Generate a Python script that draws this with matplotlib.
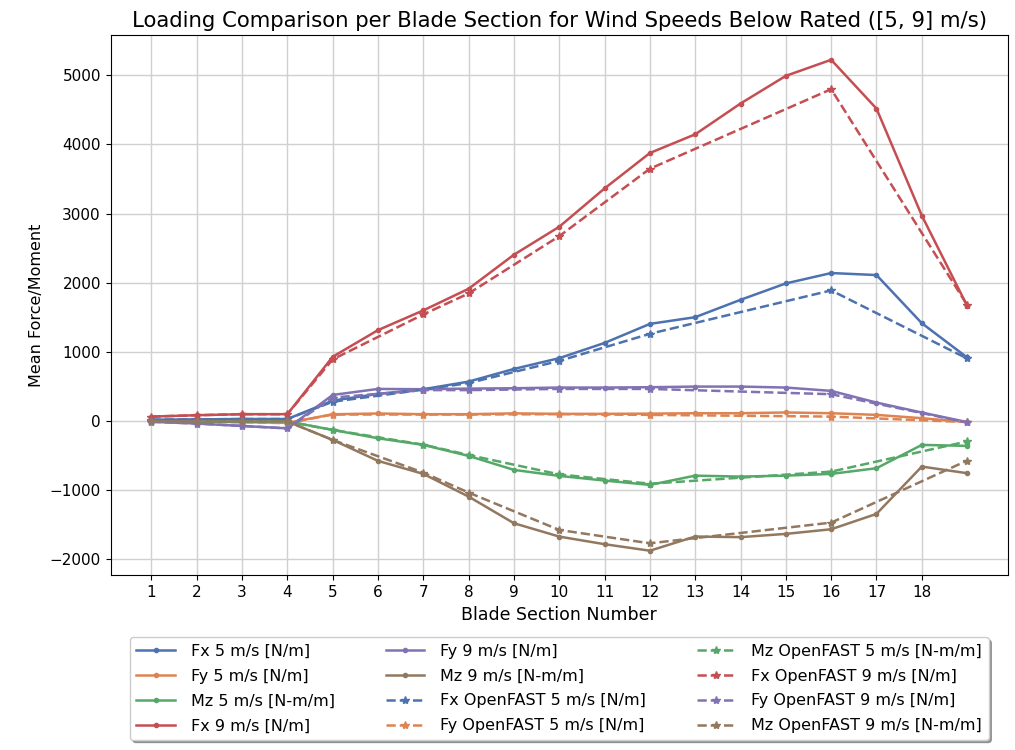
import matplotlib.pyplot as plt
import numpy as np
import seaborn as sns

# blade sections (tool data, 1..19)
sections = np.arange(1, 20)
fx5 = [20, 25, 30, 30, 296, 393, 461, 571, 754, 910, 1130, 1405, 1502, 1753, 1990, 2140, 2111, 1415, 920]
fy5 = [0, -5, -15, -25, 99, 110, 100, 100, 112, 105, 105, 108, 114, 114, 125, 114, 90, 42, -14]
mz5 = [-5, -10, -10, -5, -127, -248, -344, -503, -705, -792, -859, -922, -788, -802, -788, -763, -681, -344, -358]
fx9 = [65, 85, 100, 100, 930, 1315, 1600, 1913, 2405, 2809, 3363, 3875, 4145, 4590, 4990, 5222, 4517, 2971, 1667]
fy9 = [-10, -35, -70, -105, 378, 465, 461, 470, 475, 485, 485, 490, 499, 499, 485, 437, 268, 124, -14]
mz9 = [0, -5, -5, -5, -272, -575, -763, -1091, -1476, -1669, -1779, -1873, -1668, -1677, -1630, -1563, -1341, -657, -753]

# OpenFAST nodes
of_sections = [1, 2, 3, 4, 5, 7, 8, 10, 12, 16, 19]
of_fx5 = [20, 25, 30, 30, 280, 455, 550, 870, 1262, 1889, 905]
of_fy5 = [0, -5, -15, -30, 95, 95, 95, 100, 90, 65, -14]
of_mz5 = [-5, -10, -10, -5, -127, -340, -490, -770, -905, -730, -294]
of_fx9 = [65, 85, 100, 100, 892, 1542, 1845, 2673, 3648, 4797, 1680]
of_fy9 = [-10, -35, -70, -105, 340, 448, 448, 465, 465, 389, -20]
of_mz9 = [0, -5, -5, -5, -272, -744, -1033, -1573, -1766, -1467, -571]

colors = sns.color_palette("deep")

fig = plt.figure(figsize=(10.15, 7.5), dpi=100)
ax = fig.add_axes([0.109, 0.233, 0.884, 0.72])

ax.plot(sections, fx5, marker='.', color=colors[0], lw=1.8, label="Fx 5 m/s [N/m]")
ax.plot(sections, fy5, marker='.', color=colors[1], lw=1.8, label="Fy 5 m/s [N/m]")
ax.plot(sections, mz5, marker='.', color=colors[2], lw=1.8, label="Mz 5 m/s [N-m/m]")
ax.plot(sections, fx9, marker='.', color=colors[3], lw=1.8, label="Fx 9 m/s [N/m]")
ax.plot(sections, fy9, marker='.', color=colors[4], lw=1.8, label="Fy 9 m/s [N/m]")
ax.plot(sections, mz9, marker='.', color=colors[5], lw=1.8, label="Mz 9 m/s [N-m/m]")

ax.plot(of_sections, of_fx5, '--', marker='*', color=colors[0], lw=1.8, label="Fx OpenFAST 5 m/s [N/m]")
ax.plot(of_sections, of_fy5, '--', marker='*', color=colors[1], lw=1.8, label="Fy OpenFAST 5 m/s [N/m]")
ax.plot(of_sections, of_mz5, '--', marker='*', color=colors[2], lw=1.8, label="Mz OpenFAST 5 m/s [N-m/m]")
ax.plot(of_sections, of_fx9, '--', marker='*', color=colors[3], lw=1.8, label="Fx OpenFAST 9 m/s [N/m]")
ax.plot(of_sections, of_fy9, '--', marker='*', color=colors[4], lw=1.8, label="Fy OpenFAST 9 m/s [N/m]")
ax.plot(of_sections, of_mz9, '--', marker='*', color=colors[5], lw=1.8, label="Mz OpenFAST 9 m/s [N-m/m]")

ax.set_xticks(np.arange(1, 19))
ax.tick_params(labelsize=11)
ax.grid(True, color='#d0d0d0', lw=1)
ax.set_axisbelow(True)
ax.set_xlabel("Blade Section Number", fontsize=12.5)
ax.set_ylabel("Mean Force/Moment", fontsize=11.5)
ax.set_title("Loading Comparison per Blade Section for Wind Speeds Below Rated ([5, 9] m/s)", fontsize=15.3)
ax.legend(loc='upper center', bbox_to_anchor=(0.5, -0.1), ncol=3, fontsize=11.5, shadow=True,
          handlelength=2.4, handletextpad=1.0, columnspacing=3.2, labelspacing=0.62)

plt.savefig("out.png")
